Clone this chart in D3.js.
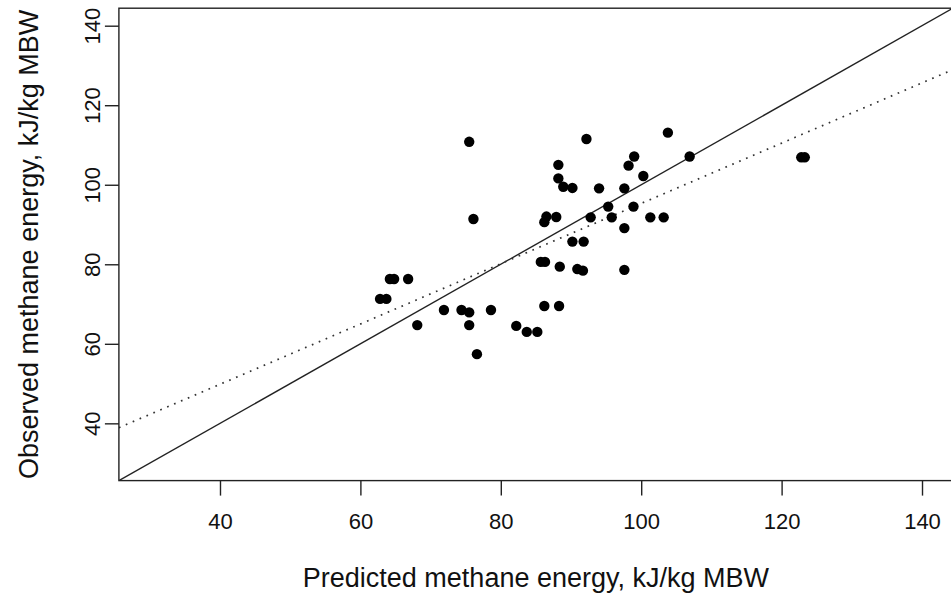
<!DOCTYPE html>
<html>
<head>
<meta charset="utf-8">
<script src="https://cdn.jsdelivr.net/npm/d3@7/dist/d3.min.js"></script>
<style>
  html, body { margin: 0; padding: 0; background: #fff; }
  svg { display: block; font-family: "Liberation Sans", Arial, Helvetica, sans-serif; }
</style>
</head>
<body>
<svg id="chart" width="951" height="597"></svg>
<script>
// Predicted vs observed methane energy (kJ/kg metabolic body weight)
const predicted = [
  75.5, 76.1, 92.2, 103.8, 88.2, 99.0, 98.2, 106.9, 88.2, 100.3,
  88.9, 90.2, 94.0, 97.6, 95.3, 98.9, 86.5, 86.2, 87.9, 92.8,
  95.8, 101.3, 103.2, 97.6, 90.2, 91.8, 64.2, 64.8, 66.8, 62.8,
  63.7, 71.9, 74.4, 75.5, 78.6, 68.1, 75.5, 82.2, 76.6, 85.7,
  86.3, 88.4, 90.9, 91.7, 97.6, 86.2, 88.3, 83.7, 85.2, 122.8,
  123.3
];
const observed = [
  110.8, 91.4, 111.5, 113.1, 105.0, 107.1, 104.8, 107.1, 101.6, 102.2,
  99.5, 99.2, 99.1, 99.1, 94.5, 94.5, 92.0, 90.6, 91.9, 91.8,
  91.8, 91.8, 91.8, 89.1, 85.7, 85.7, 76.3, 76.3, 76.3, 71.3,
  71.3, 68.5, 68.5, 67.9, 68.5, 64.7, 64.7, 64.5, 57.4, 80.6,
  80.6, 79.4, 78.8, 78.4, 78.6, 69.5, 69.5, 63.0, 63.0, 106.9,
  106.9
];
const xTicks = [40, 60, 80, 100, 120, 140];
const yTicks = [40, 60, 80, 100, 120, 140];
const axisLimits = [30, 140];          // extended by 4% on each side
const fitIntercept = 19.5;             // fitted regression line
const fitSlope = 0.758;
const xTitle = "Predicted methane energy, kJ/kg MBW";
const yTitle = "Observed methane energy, kJ/kg MBW";

const W = 951, H = 597;
const plot = { left: 118.9, right: 952.9, top: 8.2, bottom: 480.6 };

const pad = (axisLimits[1] - axisLimits[0]) * 0.04;
const domain = [axisLimits[0] - pad, axisLimits[1] + pad];

const x = d3.scaleLinear().domain(domain).range([plot.left, plot.right]);
const y = d3.scaleLinear().domain(domain).range([plot.bottom, plot.top]);

const svg = d3.select("#chart");
const ink = "#222";

svg.append("defs").append("clipPath").attr("id", "plotClip")
  .append("rect")
  .attr("x", plot.left).attr("y", plot.top)
  .attr("width", plot.right - plot.left).attr("height", plot.bottom - plot.top);

const inner = svg.append("g").attr("clip-path", "url(#plotClip)");

// 1:1 reference line
inner.append("line")
  .attr("x1", x(domain[0])).attr("y1", y(domain[0]))
  .attr("x2", x(domain[1])).attr("y2", y(domain[1]))
  .attr("stroke", ink).attr("stroke-width", 1.4);

// regression line (dotted)
inner.append("line")
  .attr("x1", x(domain[0])).attr("y1", y(fitIntercept + fitSlope * domain[0]))
  .attr("x2", x(domain[1])).attr("y2", y(fitIntercept + fitSlope * domain[1]))
  .attr("stroke", "#333").attr("stroke-width", 1.7)
  .attr("stroke-dasharray", "1.7,5.8");

// points
inner.selectAll("circle.pt")
  .data(predicted.map((p, i) => [p, observed[i]]))
  .join("circle")
  .attr("class", "pt")
  .attr("cx", d => x(d[0]))
  .attr("cy", d => y(d[1]))
  .attr("r", 5.2)
  .attr("fill", "#000");

// plot box
svg.append("rect")
  .attr("x", plot.left).attr("y", plot.top)
  .attr("width", plot.right - plot.left).attr("height", plot.bottom - plot.top)
  .attr("fill", "none").attr("stroke", ink).attr("stroke-width", 1.4);

// x axis
const xAxis = svg.append("g")
  .attr("transform", `translate(0,${plot.bottom})`)
  .call(d3.axisBottom(x).tickValues(xTicks).tickSize(15).tickPadding(18).tickFormat(d3.format("d")));
xAxis.select(".domain").remove();
xAxis.selectAll(".tick line").attr("stroke", ink).attr("stroke-width", 1.4);
xAxis.selectAll(".tick text").attr("fill", "#111").style("font-size", "22px");

// y axis, labels rotated parallel to the axis
const yAxis = svg.append("g")
  .attr("transform", `translate(${plot.left},0)`)
  .call(d3.axisLeft(y).tickValues(yTicks).tickSize(14).tickFormat(d3.format("d")));
yAxis.select(".domain").remove();
yAxis.selectAll(".tick line").attr("stroke", ink).attr("stroke-width", 1.4);
yAxis.selectAll(".tick text")
  .attr("x", null).attr("dy", null)
  .attr("text-anchor", "middle")
  .attr("transform", "translate(-19,0) rotate(-90)")
  .attr("fill", "#111").style("font-size", "22px");

// axis titles
svg.append("text")
  .attr("x", (plot.left + plot.right) / 2).attr("y", 587)
  .attr("text-anchor", "middle")
  .style("font-size", "27px").attr("fill", "#111")
  .text(xTitle);

svg.append("text")
  .attr("transform", `translate(38,${(plot.top + plot.bottom) / 2}) rotate(-90)`)
  .attr("text-anchor", "middle")
  .style("font-size", "27px").attr("fill", "#111")
  .text(yTitle);
</script>
</body>
</html>
